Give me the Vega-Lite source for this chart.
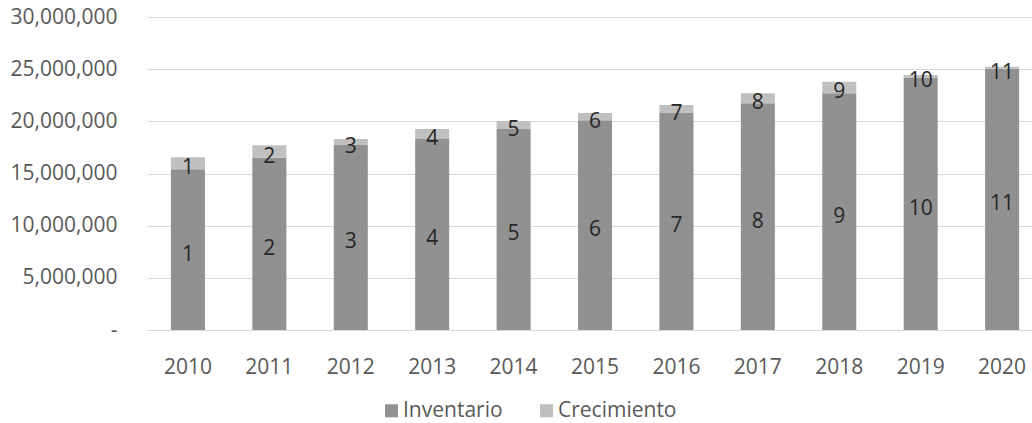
{
  "$schema": "https://vega.github.io/schema/vega-lite/v6.json",
  "width": 885,
  "height": 313,
  "autosize": {"type": "none"},
  "padding": {"left": 147, "top": 17, "right": 0, "bottom": 93},
  "background": "white",
  "config": {"font": "Open Sans", "view": {"stroke": null}},
  "data": {"values": [
    {"year": "2010", "serie": "Inventario", "value": 15400000, "label": "1"},
    {"year": "2010", "serie": "Crecimiento", "value": 1150000, "label": "1"},
    {"year": "2011", "serie": "Inventario", "value": 16500000, "label": "2"},
    {"year": "2011", "serie": "Crecimiento", "value": 1200000, "label": "2"},
    {"year": "2012", "serie": "Inventario", "value": 17740000, "label": "3"},
    {"year": "2012", "serie": "Crecimiento", "value": 570000, "label": "3"},
    {"year": "2013", "serie": "Inventario", "value": 18310000, "label": "4"},
    {"year": "2013", "serie": "Crecimiento", "value": 960000, "label": "4"},
    {"year": "2014", "serie": "Inventario", "value": 19270000, "label": "5"},
    {"year": "2014", "serie": "Crecimiento", "value": 770000, "label": "5"},
    {"year": "2015", "serie": "Inventario", "value": 20100000, "label": "6"},
    {"year": "2015", "serie": "Crecimiento", "value": 700000, "label": "6"},
    {"year": "2016", "serie": "Inventario", "value": 20800000, "label": "7"},
    {"year": "2016", "serie": "Crecimiento", "value": 770000, "label": "7"},
    {"year": "2017", "serie": "Inventario", "value": 21730000, "label": "8"},
    {"year": "2017", "serie": "Crecimiento", "value": 960000, "label": "8"},
    {"year": "2018", "serie": "Inventario", "value": 22690000, "label": "9"},
    {"year": "2018", "serie": "Crecimiento", "value": 1110000, "label": "9"},
    {"year": "2019", "serie": "Inventario", "value": 24200000, "label": "10"},
    {"year": "2019", "serie": "Crecimiento", "value": 250000, "label": "10"},
    {"year": "2020", "serie": "Inventario", "value": 25050000, "label": "11"},
    {"year": "2020", "serie": "Crecimiento", "value": 170000, "label": "11"}
  ]},
  "layer": [
    {
      "mark": {"type": "bar"},
      "encoding": {
        "x": {
          "field": "year", "type": "ordinal",
          "scale": {"paddingInner": 0.582, "paddingOuter": 0.226, "align": 0.65},
          "axis": {"title": null, "labelAngle": 0, "ticks": false, "domain": true, "domainColor": "#d9d9d9", "labelFontSize": 21, "labelColor": "#595959", "labelPadding": 26, "grid": false}
        },
        "y": {
          "field": "value", "type": "quantitative", "stack": "zero",
          "scale": {"domain": [0, 30000000], "nice": false},
          "axis": {"title": null, "values": [0, 5000000, 10000000, 15000000, 20000000, 25000000, 30000000], "grid": true, "gridColor": "#d9d9d9", "domain": false, "ticks": false, "labelFontSize": 21, "labelColor": "#595959", "labelPadding": 30, "labelExpr": "datum.value == 0 ? '-' : format(datum.value, ',')"}
        },
        "order": {"field": "serie", "sort": "descending"},
        "color": {
          "field": "serie", "type": "nominal",
          "scale": {"domain": ["Inventario", "Crecimiento"], "range": ["#919191", "#c0c0c0"]},
          "legend": {"orient": "none", "legendX": 234, "legendY": 383, "direction": "horizontal", "title": null, "symbolType": "square", "symbolSize": 169, "symbolStrokeWidth": 0, "labelFontSize": 21, "labelColor": "#595959", "labelOffset": 1, "columnPadding": 33}
        }
      }
    },
    {
      "transform": [
        {"stack": "value", "groupby": ["year"], "sort": [{"field": "serie", "order": "descending"}], "as": ["v0", "v1"]},
        {"fold": ["v0", "v1"], "as": ["k", "pos"]}
      ],
      "mark": {"type": "text", "baseline": "middle", "dy": 5, "fontSize": 21, "color": "#262626"},
      "encoding": {
        "x": {"field": "year", "type": "ordinal"},
        "y": {"aggregate": "mean", "field": "pos", "type": "quantitative"},
        "detail": {"field": "serie"},
        "text": {"field": "label"}
      }
    }
  ]
}
